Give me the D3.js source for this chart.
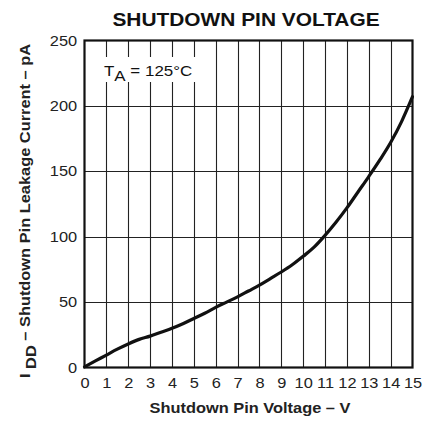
<!DOCTYPE html>
<html>
<head>
<meta charset="utf-8">
<script src="https://cdn.jsdelivr.net/npm/d3@7"></script>
<style>
  html, body { margin: 0; padding: 0; background: #fff; }
  svg { display: block; font-family: "Liberation Sans", Arial, sans-serif; }
</style>
</head>
<body>
<svg id="chart" width="435" height="428"></svg>
<script>
// Leakage current into the shutdown pin vs. applied voltage, TA = 125°C
const voltage = [0, 0.5, 1, 1.5, 2, 2.5, 3, 3.5, 4, 4.5, 5, 5.5, 6, 6.5, 7, 7.5, 8, 8.5, 9, 9.5, 10, 10.5, 11, 11.5, 12, 12.5, 13, 13.5, 14, 14.5, 15];
const leakage = [0.5, 5, 9.5, 14, 18, 21.5, 24, 27, 30, 33.5, 37.5, 41.5, 46, 50, 54, 58.5, 63, 68, 73, 78.5, 85, 92, 101, 111, 122, 134, 146, 158.5, 172, 188, 207];
const xTicks = d3.range(0, 16);
const yTicks = [0, 50, 100, 150, 200, 250];

const svg = d3.select("#chart");
const plotLeft = 84.5, plotRight = 412.5, plotTop = 40.5, plotBottom = 367.5;
const widen = 1.13; // lettering is set slightly extended

const x = d3.scaleLinear().domain([0, 15]).range([plotLeft, plotRight]);
const y = d3.scaleLinear().domain([0, 250]).range([plotBottom, plotTop]);

// Title
svg.append("text")
  .attr("transform", `translate(246,26) scale(${widen},1)`)
  .attr("text-anchor", "middle")
  .attr("font-weight", "bold").attr("font-size", 18.5)
  .attr("fill", "#111")
  .text("SHUTDOWN PIN VOLTAGE");

// Grid
const grid = svg.append("g").attr("stroke", "#222").attr("stroke-width", 1.1);
grid.selectAll("line.v").data(xTicks.slice(1, -1)).join("line")
  .attr("x1", d => Math.round(x(d)) + 0.5).attr("x2", d => Math.round(x(d)) + 0.5)
  .attr("y1", plotTop).attr("y2", plotBottom);
grid.selectAll("line.h").data(yTicks.slice(1, -1)).join("line")
  .attr("x1", plotLeft).attr("x2", plotRight)
  .attr("y1", d => Math.round(y(d)) + 0.5).attr("y2", d => Math.round(y(d)) + 0.5);

// Condition label on a white patch over the grid
const cond = svg.append("g");
cond.append("rect").attr("x", 100).attr("y", 57).attr("width", 98).attr("height", 25).attr("fill", "#fff");
const ct = cond.append("text")
  .attr("transform", `translate(104,76) scale(${widen},1)`)
  .attr("font-size", 15).attr("fill", "#111");
ct.append("tspan").text("T");
ct.append("tspan").attr("dy", 4.5).text("A");
ct.append("tspan").attr("dy", -4.5).text(" = 125°C");

// Curve
const line = d3.line().x((d, i) => x(voltage[i])).y(d => y(d)).curve(d3.curveMonotoneX);
svg.append("path").datum(leakage)
  .attr("d", line)
  .attr("fill", "none").attr("stroke", "#111").attr("stroke-width", 3.2)
  .attr("stroke-linecap", "round");

// Frame
svg.append("rect")
  .attr("x", plotLeft).attr("y", plotTop).attr("width", plotRight - plotLeft).attr("height", plotBottom - plotTop)
  .attr("fill", "none").attr("stroke", "#111").attr("stroke-width", 2.2);

// Axes (labels only)
const xAxis = svg.append("g").attr("transform", `translate(0,${plotBottom})`)
  .call(d3.axisBottom(x).tickValues(xTicks).tickSize(0).tickPadding(10).tickFormat(d3.format("d")));
const yAxis = svg.append("g").attr("transform", `translate(${plotLeft},0)`)
  .call(d3.axisLeft(y).tickValues(yTicks).tickSize(0).tickPadding(6.5).tickFormat(d3.format("d")));
[xAxis, yAxis].forEach(g => {
  g.select(".domain").remove();
  g.selectAll("text").attr("font-size", 14.5).attr("fill", "#222")
    .attr("font-family", "Liberation Sans, Arial, sans-serif")
    .attr("transform", `scale(${widen},1)`);
});

// Axis titles
svg.append("text")
  .attr("transform", `translate(250,413) scale(${widen},1)`)
  .attr("text-anchor", "middle").attr("font-weight", "bold").attr("font-size", 14.5)
  .attr("fill", "#222")
  .text("Shutdown Pin Voltage – V");

const yt = svg.append("text")
  .attr("transform", `translate(30,211) rotate(-90) scale(${widen},1)`)
  .attr("text-anchor", "middle").attr("font-weight", "bold").attr("font-size", 14.5)
  .attr("fill", "#222");
yt.append("tspan").text("I ");
yt.append("tspan").attr("dy", 6).text("DD");
yt.append("tspan").attr("dy", -6).text(" – Shutdown Pin Leakage Current – pA");
</script>
</body>
</html>
